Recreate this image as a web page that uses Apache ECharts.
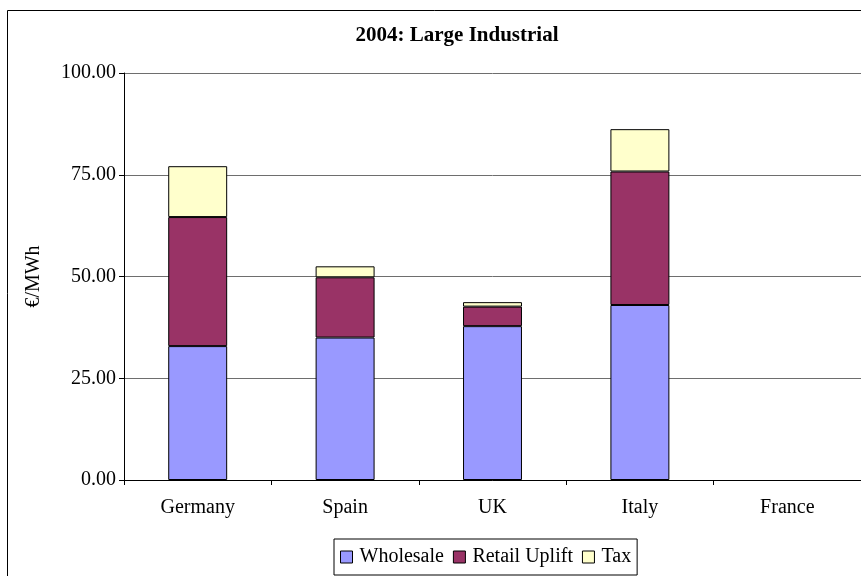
<!DOCTYPE html>
<html><head><meta charset="utf-8">
<script src="https://cdn.jsdelivr.net/npm/echarts@6/dist/echarts.min.js"></script>
<style>html,body{margin:0;padding:0;background:#fff}#c{width:861px;height:576px}</style>
</head><body><div id="c"></div>
<script>
var categories = ['Germany', 'Spain', 'UK', 'Italy', 'France'];
var wholesale = [32.9, 35.0, 37.8, 43.0, null];
var retailUplift = [31.7, 14.8, 4.8, 32.8, null];
var tax = [12.5, 2.7, 1.1, 10.4, null];
var yTicks = [0, 25, 50, 75, 100];

var font = 'Liberation Serif, Times New Roman, serif';
var chart = echarts.init(document.getElementById('c'), null, {renderer: 'canvas'});
function bar(name, data, color) {
  return {
    name: name, type: 'bar', stack: 'total', data: data, barWidth: '40%',
    itemStyle: {color: color, borderColor: '#000', borderWidth: 1},
    emphasis: {disabled: true}
  };
}
chart.setOption({
  animation: false,
  backgroundColor: '#fff',
  textStyle: {fontFamily: font},
  title: {
    text: '2004: Large Industrial', left: 452, top: 20, textAlign: 'center',
    textStyle: {fontFamily: font, fontSize: 21, fontWeight: 'bold', color: '#000'}
  },
  graphic: [{
    type: 'rect', left: 5, top: 8, z: -1,
    shape: {width: 870, height: 580},
    style: {fill: 'none', stroke: '#000', lineWidth: 1}
  }],
  legend: {
    bottom: 1, left: 334, icon: 'rect',
    data: ['Wholesale', 'Retail Uplift', 'Tax'],
    itemWidth: 12, itemHeight: 12, itemGap: 9,
    padding: [8, 6, 8, 6],
    borderColor: '#000', borderWidth: 1,
    textStyle: {fontFamily: font, fontSize: 20, color: '#000', padding: [0, 0, 0, 2]},
    itemStyle: {borderColor: '#000', borderWidth: 1}
  },
  grid: {left: 124, right: -1, top: 73, bottom: 96, containLabel: false},
  xAxis: {
    type: 'category', data: categories,
    axisLine: {lineStyle: {color: '#000', width: 1}},
    axisTick: {show: true, alignWithLabel: false, length: 5, lineStyle: {color: '#000'}},
    axisLabel: {fontFamily: font, fontSize: 20, color: '#000', margin: 18}
  },
  yAxis: {
    type: 'value', min: 0, max: 100, interval: 25,
    name: '€/MWh', nameLocation: 'middle', nameGap: 80, nameRotate: 90,
    nameTextStyle: {fontFamily: font, fontSize: 20, color: '#000'},
    axisLine: {show: true, lineStyle: {color: '#000', width: 1}},
    axisTick: {show: true, length: 5, lineStyle: {color: '#000'}},
    axisLabel: {fontFamily: font, fontSize: 20, color: '#000', margin: 8,
      formatter: function (v) { return v.toFixed(2); }},
    splitLine: {show: true, lineStyle: {color: '#6e6e6e', width: 1}}
  },
  series: [
    bar('Wholesale', wholesale, '#9999FF'),
    bar('Retail Uplift', retailUplift, '#993366'),
    bar('Tax', tax, '#FFFFCC')
  ]
});
</script></body></html>
